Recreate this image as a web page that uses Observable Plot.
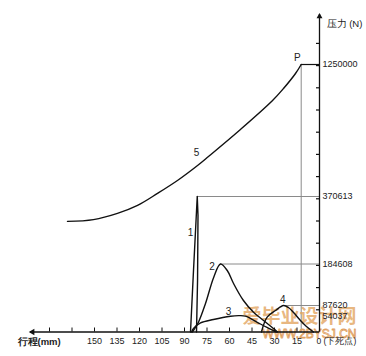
<!DOCTYPE html>
<html>
<head>
<meta charset="utf-8">
<script src="https://cdn.jsdelivr.net/npm/d3@7"></script>
<script src="https://cdn.jsdelivr.net/npm/@observablehq/plot@0.6"></script>
<style>
  html, body { margin: 0; padding: 0; background: #fff; }
  #chart { width: 366px; height: 356px; }
</style>
</head>
<body>
<div id="chart"></div>
<script>
// Stroke in mm measured from bottom dead centre (下死点), force in N
const curve1X = [86, 84, 81.5, 81, 81.3, 82];
const curve1Y = [0, 169400, 370613, 318300, 146000, 0];

const curve2X = [84.7, 80.7, 76, 70.5, 66, 61.5, 57.3, 50.7, 44, 37.3, 30.7, 28];
const curve2Y = [0, 32400, 92300, 153800, 184608, 169400, 139000, 99300, 65500, 38000, 11600, 0];

const curve3X = [85.3, 84, 79.3, 70.7, 59.3, 54, 49.3, 41.5, 35, 28.7];
const curve3Y = [0, 11600, 30000, 41300, 52000, 54037, 52500, 32000, 15000, 0];

const curve4X = [38.7, 34.9, 29.3, 24, 20.7, 17.3, 12.7, 8.7, 4];
const curve4Y = [0, 48900, 71100, 87620, 81000, 64500, 38000, 18200, 0];

const curve5X = [168, 150.7, 134.7, 121.3, 108, 94.7, 81.3, 74, 52.7, 31.3, 24, 16, 12.2];
const curve5Y = [302000, 307000, 324000, 346000, 391000, 477000, 577000, 637000, 817000, 1010000, 1090000, 1190000, 1250000];

// peaks marked with guide lines
const peakX = [81.5, 66, 24];
const peakY = [370613, 184608, 87620];
const pointPX = 12.2;
const pointPY = 1250000;

// curve labels
const labelText = ["1", "2", "3", "4", "5", "P"];
const labelX = [86, 71.7, 60.7, 24.5, 82, 14.7];
const labelY = [271400, 178800, 67800, 101600, 663700, 1292000];

// axis labels
const yLabelValues = [1250000, 370613, 184608, 87620, 54037];
const xTickValues = [0, 15, 30, 45, 60, 75, 90, 105, 120, 135, 150, 165, 180];
const xLabelValues = [150, 135, 120, 105, 90, 75, 60, 45, 30, 15];
const xZeroLabel = "0 (下死点)";
const xAxisTitle = "行程(mm)";
const yAxisTitle = "压力 (N)";
const watermark1 = "爱毕业设计网";
const watermark2 = "WWW.2BYSJ.CN";

// ---- layout (schematic, piecewise force axis) ----
const yDomainN = [0, 87620, 184608, 370613, 1250000];
const yRangePx = [331.5, 305, 263.5, 196, 64];
const yDivPx = 22.2;
const invY = d3.scaleLinear().domain(yRangePx).range(yDomainN);
const yTickValues = d3.range(1, 14).map(k => invY(yRangePx[0] - yDivPx * k));

const pts = (xs, ys) => xs.map((x, i) => ({x, y: ys[i]}));
const c1 = pts(curve1X, curve1Y), c2 = pts(curve2X, curve2Y), c3 = pts(curve3X, curve3Y),
      c4 = pts(curve4X, curve4Y), c5 = pts(curve5X, curve5Y);
const peaks = pts(peakX, peakY);
const pointP = [{x: pointPX, y: pointPY}];
const labels = labelText.map((t, i) => ({t, x: labelX[i], y: labelY[i]}));

const chart = Plot.plot({
  width: 366,
  height: 356,
  marginLeft: 30,
  marginRight: 47,
  marginTop: 14,
  marginBottom: 24.5,
  style: {fontFamily: "'Liberation Sans', Arial, sans-serif", fontSize: "9px", background: "#fff", color: "#111"},
  x: {domain: [0, 180], range: [319, 49], axis: null},
  y: {type: "linear", domain: yDomainN, range: yRangePx, axis: null},
  marks: [
    // guide lines
    Plot.ruleY(peaks, {y: "y", x1: "x", x2: 0, stroke: "#8a8a8a", strokeWidth: 1}),
    Plot.ruleX(pointP, {x: "x", y1: 0, y2: "y", stroke: "#8a8a8a", strokeWidth: 1}),
    Plot.ruleY(pointP, {y: "y", x1: "x", x2: 0, stroke: "#111", strokeWidth: 1.2}),
    // watermark (under the curves)
    Plot.text([watermark1], {frameAnchor: "bottom-right", text: d => d, textAnchor: "middle", dx: -20, dy: -9, fontSize: 19, fontWeight: "bold",
      fontFamily: "'Noto Sans CJK SC', sans-serif", fill: "#e2a45e", fillOpacity: 0.8}),
    Plot.text([watermark2], {frameAnchor: "bottom-right", text: d => d, textAnchor: "middle", dx: -10, dy: 5.5, fontSize: 12,
      fill: "none", stroke: "#e0a060", strokeWidth: 0.8}),
    // axes
    Plot.ruleY([0], {stroke: "#111", strokeWidth: 1.3}),
    Plot.ruleX([0], {stroke: "#111", strokeWidth: 1.3}),
    Plot.dot([0], {frameAnchor: "top-right", symbol: "triangle", r: 2.2, fill: "#111", stroke: null, dy: 2}),
    Plot.dot([0], {frameAnchor: "bottom-left", symbol: "triangle", r: 2.4, fill: "#111", stroke: null, rotate: -90, dx: 2}),
    Plot.axisY(yTickValues, {anchor: "right", tickSize: 4, insetRight: 4, tickFormat: () => "", label: null, strokeWidth: 1.2}),
    Plot.axisX(xTickValues, {anchor: "bottom", tickSize: 4, insetBottom: 4, tickFormat: () => "", label: null}),
    // curves
    Plot.line(c5, {x: "x", y: "y", curve: "catmull-rom", stroke: "#111", strokeWidth: 1.4}),
    Plot.line(c1, {x: "x", y: "y", curve: "linear", stroke: "#111", strokeWidth: 1.4}),
    Plot.line(c2, {x: "x", y: "y", curve: "catmull-rom", stroke: "#111", strokeWidth: 1.4}),
    Plot.line(c3, {x: "x", y: "y", curve: "catmull-rom", stroke: "#111", strokeWidth: 1.4}),
    Plot.line(c4, {x: "x", y: "y", curve: "catmull-rom", stroke: "#111", strokeWidth: 1.4}),
    // curve labels
    Plot.text(labels, {x: "x", y: "y", text: "t", fontSize: 10, fill: "#222"}),
    // axis labels
    Plot.text(yLabelValues, {y: d => d, text: d => String(d), frameAnchor: "right", textAnchor: "start", dx: 3, fontSize: 9, fill: "#222"}),
    Plot.text(xLabelValues, {x: d => d, text: d => String(d), frameAnchor: "bottom", dy: 12, fontSize: 9, fill: "#222"}),
    Plot.text([xZeroLabel], {x: 0, text: d => d, frameAnchor: "bottom", textAnchor: "start", dx: -3, dy: 12, fontSize: 8.5, fill: "#222"}),
    Plot.text([xAxisTitle], {frameAnchor: "bottom-left", text: d => d, textAnchor: "start", dx: -13, dy: 12.5, fontSize: 9.5, fontWeight: "bold", fill: "#222"}),
    Plot.text([yAxisTitle], {frameAnchor: "top-right", text: d => d, textAnchor: "start", dx: 7, dy: 6, fontSize: 9.5, fill: "#222"})
  ]
});
document.getElementById("chart").appendChild(chart);
</script>
</body>
</html>
